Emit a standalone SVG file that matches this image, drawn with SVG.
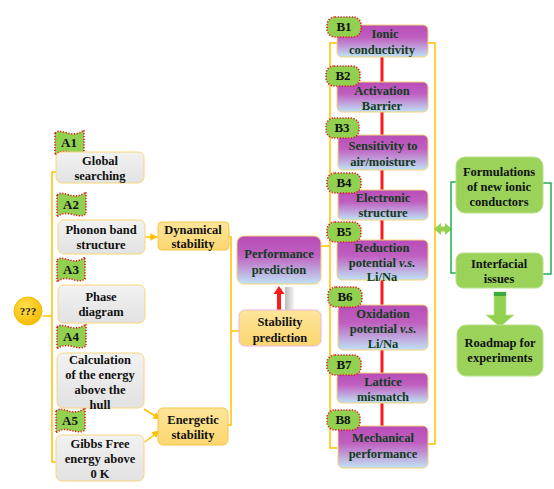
<svg xmlns="http://www.w3.org/2000/svg" width="554" height="489" viewBox="0 0 554 489" font-family="Liberation Serif, Times New Roman, serif" font-weight="bold">
<defs>
<linearGradient id="gGrey" x1="0" y1="0" x2="0" y2="1"><stop offset="0" stop-color="#f2f2f2"/><stop offset="1" stop-color="#e2e2e2"/></linearGradient>
<linearGradient id="gPurple" x1="0" y1="0" x2="0" y2="1"><stop offset="0" stop-color="#b84cb8"/><stop offset="0.4" stop-color="#c060c0"/><stop offset="1" stop-color="#bfe2f5"/></linearGradient>
<linearGradient id="gYel" x1="0" y1="0" x2="0" y2="1"><stop offset="0" stop-color="#fde59a"/><stop offset="1" stop-color="#fcd670"/></linearGradient>
<linearGradient id="gShadow" x1="0" y1="0" x2="1" y2="0"><stop offset="0" stop-color="#bbbbbb"/><stop offset="1" stop-color="#f4f4f4"/></linearGradient>
<radialGradient id="gGold" cx="0.4" cy="0.35" r="0.7"><stop offset="0" stop-color="#ffe14d"/><stop offset="1" stop-color="#f5b800"/></radialGradient>
<marker id="arrY" viewBox="0 0 10 10" refX="9" refY="5" markerWidth="5" markerHeight="5" orient="auto"><path d="M0,0 L10,5 L0,10 z" fill="#ffc000"/></marker>
</defs>
<style>
text{text-anchor:middle}
.t{font-size:12.5px;fill:#111}
.tg{font-size:12.5px;fill:#0f3d1c}
.f{font-size:13px;fill:#111}
.grey{fill:url(#gGrey);stroke:#fbd57a;stroke-width:1}
.pur{fill:url(#gPurple);stroke:#f5d27a;stroke-width:1}
.yel{fill:url(#gYel);stroke:#f5c542;stroke-width:1}
.grn{fill:#9bd35a;stroke:#b9e08a;stroke-width:1}
.flag{fill:#92d050;stroke:#e8141e;stroke-width:1.6;stroke-dasharray:1.2 1.6}
.ln{fill:none;stroke:#ffc000;stroke-width:1.5}
.red{stroke:#ff1a1a;stroke-width:3}
.gl{fill:none;stroke:#22b04c;stroke-width:1.5}
</style>

<g id="connectors">
<path class="ln" d="M56,172 H52 V462 H56"/>
<path class="ln" d="M43,316 H52"/>
<line class="ln" x1="145" y1="237" x2="157" y2="237" marker-end="url(#arrY)"/>
<line class="ln" x1="144" y1="409" x2="160" y2="419" marker-end="url(#arrY)"/>
<line class="ln" x1="145" y1="442" x2="159" y2="431" marker-end="url(#arrY)"/>
<path class="ln" d="M229,237 H231 V425 H228"/>
<path class="ln" d="M231,331 H239"/>
<path class="ln" d="M321,246 H330"/>
<path class="ln" d="M337,43 H330 V448 H337"/>
<path class="ln" d="M428,43 H435 V444 H428"/>
<line class="red" x1="382" y1="57" x2="382" y2="82"/>
<line class="red" x1="382" y1="112" x2="382" y2="135"/>
<line class="red" x1="382" y1="170" x2="382" y2="190"/>
<line class="red" x1="382" y1="220" x2="382" y2="240"/>
<line class="red" x1="382" y1="280" x2="382" y2="305"/>
<line class="red" x1="382" y1="350" x2="382" y2="373"/>
<line class="red" x1="382" y1="403" x2="382" y2="426"/>
<rect x="285" y="287" width="9" height="23" fill="url(#gShadow)"/>
<path d="M277,310 V294 H273.5 L279,286 L284.5,294 H281 V310 Z" fill="#ff1a1a"/>
<path d="M434,229 L441,223 V226.5 H445 V223 L452,229 L445,235 V231.5 H441 V235 Z" fill="#92d050"/>
<path class="gl" d="M456,182 H451 V273 H456"/>
<path class="gl" d="M543,183 H551 V274 H543"/>
<path d="M494,292 H506 V315 H514 L500,327 L486,315 H494 Z" fill="#92d050" stroke="#c6e6a0" stroke-width="0.8"/>
<rect x="494" y="292" width="12" height="4" fill="#3cab3c"/>
</g>

<g id="start">
<circle cx="28" cy="311" r="14" fill="url(#gGold)" stroke="#f2c200" stroke-width="1"/>
<text class="f" x="28" y="315" style="font-size:11px">???</text>
</g>

<g id="A1">
<path class="flag" d="M55,133 C62,127 71,140 84,130 L84,152 C75,158 65,146 55,155 Z"/>
<text class="f" x="69" y="147">A1</text>
<rect class="grey" x="56" y="152" width="88" height="31" rx="6"/>
<text class="t" x="100" y="165">Global</text>
<text class="t" x="100" y="180">searching</text>
</g>
<g id="A2">
<path class="flag" d="M57,195 C64,189 73,202 86,192 L86,214 C77,220 67,208 57,217 Z"/>
<text class="f" x="71" y="209">A2</text>
<rect class="grey" x="58" y="220" width="87" height="34" rx="6"/>
<text class="t" x="101" y="234">Phonon band</text>
<text class="t" x="101" y="249">structure</text>
</g>
<g id="A3">
<path class="flag" d="M57,260 C64,254 73,267 85,257 L85,279 C77,285 67,273 57,282 Z"/>
<text class="f" x="71" y="274">A3</text>
<rect class="grey" x="58" y="285" width="87" height="38" rx="6"/>
<text class="t" x="101" y="301">Phase</text>
<text class="t" x="101" y="316">diagram</text>
</g>
<g id="A4">
<path class="flag" d="M57,327 C64,321 73,334 86,324 L86,346 C77,352 67,340 57,349 Z"/>
<text class="f" x="71" y="341">A4</text>
<rect class="grey" x="57" y="353" width="87" height="55" rx="6"/>
<text class="t" x="100" y="364">Calculation</text>
<text class="t" x="100" y="379">of the energy</text>
<text class="t" x="100" y="394">above the</text>
<text class="t" x="100" y="409">hull</text>
</g>
<g id="A5">
<path class="flag" d="M56,411 C63,405 72,418 85,408 L85,430 C76,436 66,424 56,433 Z"/>
<text class="f" x="70" y="425">A5</text>
<rect class="grey" x="56" y="435" width="88" height="46" rx="6"/>
<text class="t" x="100" y="448">Gibbs Free</text>
<text class="t" x="100" y="463">energy above</text>
<text class="t" x="100" y="478">0 K</text>
</g>

<g id="dynamical">
<rect class="yel" x="158" y="222" width="71" height="28" rx="4"/>
<text class="t" x="193" y="234">Dynamical</text>
<text class="t" x="193" y="248">stability</text>
</g>
<g id="energetic">
<rect class="yel" x="158" y="408" width="70" height="37" rx="5"/>
<text class="t" x="193" y="424">Energetic</text>
<text class="t" x="193" y="439">stability</text>
</g>
<g id="performance">
<rect class="pur" x="237" y="236" width="84" height="48" rx="7"/>
<text class="tg" x="279" y="258">Performance</text>
<text class="tg" x="279" y="274">prediction</text>
</g>
<g id="stability">
<rect x="239" y="310" width="82" height="36" rx="6" fill="url(#gYel)" stroke="#e8b8d8" stroke-width="1"/>
<text class="t" x="280" y="326">Stability</text>
<text class="t" x="280" y="342">prediction</text>
</g>

<g id="B1">
<rect class="pur" x="337" y="25" width="91" height="32" rx="5"/>
<rect class="flag" x="327" y="17" width="34" height="20" rx="8"/>
<text class="f" x="344" y="31">B1</text>
<text class="tg" x="385" y="38">Ionic</text>
<text class="tg" x="382" y="54">conductivity</text>
</g>
<g id="B2">
<rect class="pur" x="337" y="82" width="91" height="30" rx="5"/>
<rect class="flag" x="326" y="66" width="34" height="20" rx="8"/>
<text class="f" x="343" y="80">B2</text>
<text class="tg" x="382" y="95">Activation</text>
<text class="tg" x="382" y="110">Barrier</text>
</g>
<g id="B3">
<rect class="pur" x="338" y="135" width="90" height="35" rx="5"/>
<rect class="flag" x="326" y="118" width="33" height="20" rx="8"/>
<text class="f" x="342" y="132">B3</text>
<text class="tg" x="383" y="150">Sensitivity to</text>
<text class="tg" x="383" y="166">air/moisture</text>
</g>
<g id="B4">
<rect class="pur" x="338" y="190" width="90" height="30" rx="5"/>
<rect class="flag" x="327" y="173" width="34" height="20" rx="8"/>
<text class="f" x="344" y="187">B4</text>
<text class="tg" x="383" y="202">Electronic</text>
<text class="tg" x="383" y="217">structure</text>
</g>
<g id="B5">
<rect class="pur" x="337" y="240" width="91" height="40" rx="5"/>
<rect class="flag" x="327" y="222" width="34" height="20" rx="8"/>
<text class="f" x="344" y="236">B5</text>
<text class="tg" x="382" y="252">Reduction</text>
<text class="tg" x="382" y="267">potential <tspan font-style="italic">v.s.</tspan></text>
<text class="tg" x="382" y="281">Li/Na</text>
</g>
<g id="B6">
<rect class="pur" x="338" y="305" width="90" height="45" rx="5"/>
<rect class="flag" x="328" y="287" width="34" height="20" rx="8"/>
<text class="f" x="345" y="301">B6</text>
<text class="tg" x="383" y="318">Oxidation</text>
<text class="tg" x="383" y="333">potential <tspan font-style="italic">v.s.</tspan></text>
<text class="tg" x="383" y="348">Li/Na</text>
</g>
<g id="B7">
<rect class="pur" x="337" y="373" width="91" height="30" rx="5"/>
<rect class="flag" x="327" y="355" width="34" height="20" rx="8"/>
<text class="f" x="344" y="369">B7</text>
<text class="tg" x="383" y="386">Lattice</text>
<text class="tg" x="383" y="401">mismatch</text>
</g>
<g id="B8">
<rect class="pur" x="338" y="426" width="90" height="42" rx="5"/>
<rect class="flag" x="327" y="410" width="33" height="20" rx="8"/>
<text class="f" x="343" y="424">B8</text>
<text class="tg" x="383" y="442">Mechanical</text>
<text class="tg" x="383" y="458">performance</text>
</g>

<g id="formulations">
<rect class="grn" x="456" y="157" width="87" height="56" rx="9"/>
<text class="t" x="499" y="176">Formulations</text>
<text class="t" x="499" y="191">of new ionic</text>
<text class="t" x="499" y="206">conductors</text>
</g>
<g id="interfacial">
<rect class="grn" x="456" y="253" width="87" height="35" rx="7"/>
<text class="t" x="499" y="268">Interfacial</text>
<text class="t" x="499" y="283">issues</text>
</g>
<g id="roadmap">
<rect class="grn" x="457" y="325" width="86" height="51" rx="9"/>
<text class="t" x="500" y="347">Roadmap for</text>
<text class="t" x="500" y="362">experiments</text>
</g>
</svg>
